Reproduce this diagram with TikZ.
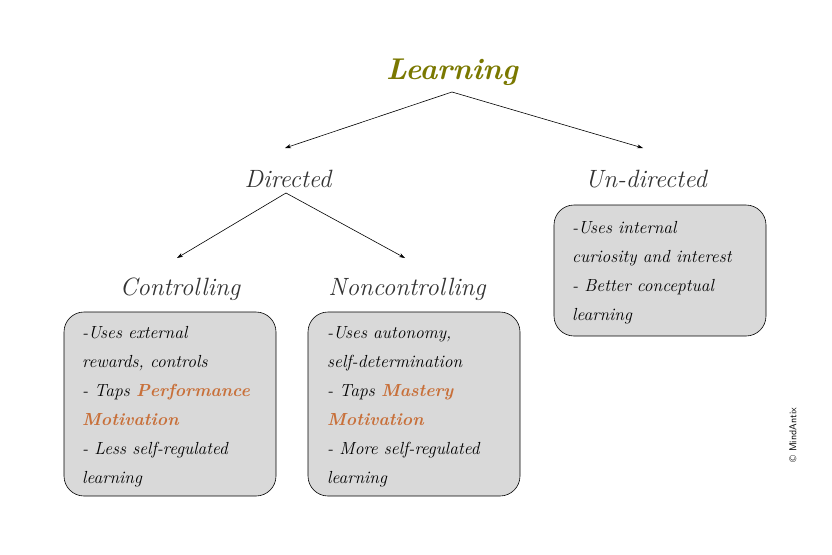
\documentclass[tikz,border=0pt]{standalone}
\usetikzlibrary{arrows.meta}
\definecolor{olivet}{HTML}{7A7800}
\definecolor{orng}{HTML}{C8703A}
\definecolor{boxg}{HTML}{D9D9D9}
\definecolor{txt}{HTML}{333333}
\begin{document}
\begin{tikzpicture}[x=1pt,y=-1pt,
  head/.style={font=\itshape\fontsize{25}{28}\selectfont, text=txt, inner sep=0pt},
  box/.style={draw=black, fill=boxg, rounded corners=20pt, line width=0.6pt},
  btxt/.style={anchor=north west, align=left, inner sep=0pt, font=\itshape\fontsize{17.5}{29}\selectfont, text=black},
  arr/.style={-{Stealth[length=6pt,width=4pt]}, line width=0.6pt}]
\useasboundingbox (0,0) rectangle (832,554);
\node[head, text=olivet, font=\itshape\bfseries\fontsize{30}{34}\selectfont] (learn) at (452,72) {Learning};
\node[head] (dir) at (288,179) {Directed};
\node[head] (und) at (646,179) {Un-directed};
\node[head] (ctl) at (180,289) {Controlling};
\node[head] (nct) at (407,289) {Noncontrolling};
\coordinate (l0) at (452,92);
\coordinate (d0) at (286,193);
\coordinate (dt) at (285,148);
\coordinate (ut) at (643,148);
\coordinate (ct) at (177,258);
\coordinate (nt) at (405,258);
\draw[arr] (l0) -- (dt);
\draw[arr] (l0) -- (ut);
\draw[arr] (d0) -- (ct);
\draw[arr] (d0) -- (nt);
\draw[box] (64,312) rectangle (276,496);
\draw[box] (308,312) rectangle (520,496);
\draw[box] (554,205) rectangle (766,336);
\node[btxt] (lt) at (82,326) {-Uses external\\rewards, controls\\- Taps \textcolor{orng}{\bfseries Performance}\\\textcolor{orng}{\bfseries Motivation}\\- Less self-regulated\\learning};
\node[btxt] (mt) at (327,326) {-Uses autonomy,\\self-determination\\- Taps \textcolor{orng}{\bfseries Mastery}\\\textcolor{orng}{\bfseries Motivation}\\- More self-regulated\\learning};
\node[btxt] (rt) at (572,221) {-Uses internal\\curiosity and interest\\- Better conceptual\\learning};
\node[rotate=90, font=\sffamily\fontsize{10}{12}\selectfont] (cp) at (793,435) {\textcopyright{} MindAntix};
\end{tikzpicture}
\end{document}
